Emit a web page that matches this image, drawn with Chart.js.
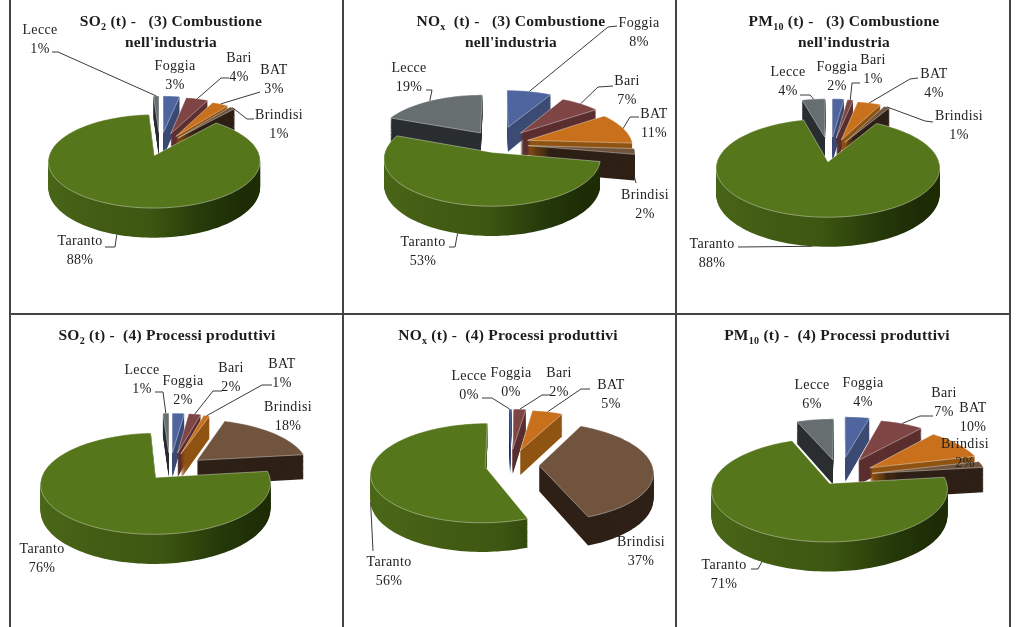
<!DOCTYPE html>
<html>
<head>
<meta charset="utf-8">
<title>Emissioni per provincia</title>
<script src="https://cdn.jsdelivr.net/npm/chart.js@4"></script>
<style>
  html, body { margin: 0; padding: 0; background: #fff; overflow: hidden; }
  #page { position: relative; width: 1024px; height: 627px; }
  canvas { position: absolute; left: 0; top: 0; }
  .rule { position: absolute; background: #444; }
  .title {
    position: absolute; transform: translateX(-50%); white-space: nowrap; text-align: center;
    font: bold 15.5px/21px "Liberation Serif", serif; color: #1c1c1c; letter-spacing: 0.25px; z-index: 5;
  }
  .title sub { font-size: 10px; line-height: 0; }
</style>
</head>
<body>
<div id="page"></div>
<script>
// Data (percent per province)
const provinces = ['Foggia', 'Bari', 'BAT', 'Brindisi', 'Taranto', 'Lecce'];
const so2Combustione = [3, 4, 3, 1, 88, 1];
const noxCombustione = [8, 7, 11, 2, 53, 19];
const pm10Combustione = [2, 1, 4, 1, 88, 4];
const so2Processi = [2, 2, 1, 18, 76, 1];
const noxProcessi = [0.2, 2, 5, 37, 55.7, 0.1];
const pm10Processi = [4, 7, 10, 2, 71, 6];

const titleCombustione = "(3) Combustione<br>nell'industria";
const titleProcessi = '(4) Processi produttivi';

const topColors = ['#4f659f', '#7f4545', '#c8701c', '#70543e', '#56761b', '#666e70'];
const wallColors = ['#3c4b74', '#5b2f2f', '#8f5312', '#2e2016', '#3f5a14', '#2a2e31'];
const drawOrder = [0, 1, 2, 3, 5, 4];

// Layout of each panel: pie centre, radius, explosion per slice, label centres and leader elbows
const panels = [
  {
    title: 'SO<sub>2</sub> (t) -&nbsp;&nbsp; ' + titleCombustione, values: so2Combustione,
    tx: 171, ty: 10, cx: 160, cy: 148, r: 103, explode: [38, 36, 32, 30, 18, 38],
    labels: [[175, 66], [239, 58], [274, 70], [279, 115], [80, 241], [40, 30]],
    leaders: [null, [[229, 78], [221, 78]], [[260, 92]], [[254, 119], [247, 119]], [[105, 247], [115, 247]], [[52, 52], [58, 52]]]
  },
  {
    title: 'NO<sub>x</sub>&nbsp; (t) -&nbsp;&nbsp; ' + titleCombustione, values: noxCombustione,
    tx: 511, ty: 10, cx: 498, cy: 144, r: 105, explode: [42, 35, 31, 30, 20, 32],
    labels: [[639, 23], [627, 81], [654, 114], [645, 195], [423, 242], [409, 68]],
    leaders: [[[617, 26], [608, 27]], [[613, 86], [598, 87]], [[639, 117], [630, 117]], [[636, 183]], [[449, 247], [455, 247]], [[426, 90], [432, 90]]]
  },
  {
    title: 'PM<sub>10</sub> (t) -&nbsp;&nbsp; ' + titleCombustione, values: pm10Combustione,
    tx: 844, ty: 10, cx: 830, cy: 155, r: 109, explode: [44, 42, 38, 34, 16, 44],
    labels: [[837, 67], [873, 60], [934, 74], [959, 116], [712, 244], [788, 72]],
    leaders: [null, [[860, 83], [852, 83]], [[918, 78], [910, 79]], [[933, 122], [925, 121]], [[738, 247]], [[800, 95], [810, 95]]]
  },
  {
    title: 'SO<sub>2</sub> (t) -&nbsp; ' + titleProcessi, values: so2Processi,
    tx: 167, ty: 324, cx: 170, cy: 470, r: 112, explode: [42, 42, 40, 36, 22, 42],
    labels: [[183, 381], [231, 368], [282, 364], [288, 407], [42, 549], [142, 370]],
    leaders: [null, [[222, 391], [213, 391]], [[272, 385], [262, 385]], null, null, [[155, 392], [163, 392]]]
  },
  {
    title: 'NO<sub>x</sub> (t) -&nbsp; ' + titleProcessi, values: noxProcessi,
    tx: 508, ty: 324, cx: 510, cy: 465, r: 113, explode: [38, 38, 36, 29, 25, 38],
    labels: [[511, 373], [559, 373], [611, 385], [641, 542], [389, 562], [469, 376]],
    leaders: [null, [[550, 395], [542, 395]], [[590, 389], [581, 389]], null, [[373, 551]], [[482, 398], [492, 398]]]
  },
  {
    title: 'PM<sub>10</sub> (t) -&nbsp; ' + titleProcessi, values: pm10Processi,
    tx: 837, ty: 324, cx: 840, cy: 476, r: 115, explode: [46, 42, 36, 33, 20, 40],
    labels: [[863, 383], [944, 393], [973, 408], [965, 444], [724, 565], [812, 385]],
    leaders: [null, [[933, 416], [920, 416]], null, null, [[751, 569], [758, 569]], null]
  }
];

const tilt = 0.43;
const perspective = 0.12;
const depth = 25.5;

// Plane point -> screen point, with a little perspective like the 3D pies in Excel
function project(arc, px, py, z) {
  const s = 1 / (1 - perspective * py / arc.outerRadius);
  return [arc.x + px * s, arc.y + tilt * py * s + z * s];
}

function slicePoints(arc) {
  const mid = (arc.startAngle + arc.endAngle) / 2;
  const e = arc.options.offset || 0;
  const ox = Math.cos(mid) * e;
  const oy = Math.sin(mid) * e;
  const pts = [[ox, oy]];
  const steps = Math.max(2, Math.ceil((arc.endAngle - arc.startAngle) / 0.03));
  for (let i = 0; i <= steps; i++) {
    const a = arc.startAngle + (arc.endAngle - arc.startAngle) * i / steps;
    pts.push([ox + arc.outerRadius * Math.cos(a), oy + arc.outerRadius * Math.sin(a)]);
  }
  return pts;
}

function tracePath(ctx, arc, pts, z) {
  ctx.beginPath();
  pts.forEach((p, i) => {
    const q = project(arc, p[0], p[1], z);
    if (i === 0) ctx.moveTo(q[0], q[1]); else ctx.lineTo(q[0], q[1]);
  });
  ctx.closePath();
}

// The pie controller works out the angles, the plugin paints them as tilted slices
const pie3d = {
  id: 'pie3d',
  beforeDatasetsDraw(chart) {
    const ctx = chart.ctx;
    const arcs = chart.getDatasetMeta(0).data;
    drawOrder.forEach((i) => {
      const arc = arcs[i];
      if (arc.endAngle - arc.startAngle <= 0) return;
      const pts = slicePoints(arc);
      let wall = wallColors[i];
      if (provinces[i] === 'Taranto') {
        const left = arc.x - arc.outerRadius - 20;
        const g = ctx.createLinearGradient(left, 0, left + 2 * arc.outerRadius, 0);
        g.addColorStop(0, '#4a6717');
        g.addColorStop(0.3, '#425c14');
        g.addColorStop(0.55, '#3d5611');
        g.addColorStop(0.8, '#263a0a');
        g.addColorStop(1, '#1d2c05');
        wall = g;
      }
      ctx.fillStyle = wall;
      for (let z = depth; z > 0; z--) {
        tracePath(ctx, arc, pts, z);
        ctx.fill();
      }
      tracePath(ctx, arc, pts, 0);
      ctx.fillStyle = topColors[i];
      ctx.fill();
      if (arc.endAngle - arc.startAngle > 0.05) {
        ctx.strokeStyle = 'rgba(255,255,255,0.55)';
        ctx.lineWidth = 0.7;
        ctx.stroke();
      }
    });
    return false;
  },
  afterDraw(chart) {
    const ctx = chart.ctx;
    const panel = chart.options.plugins.pie3d.panel;
    const arcs = chart.getDatasetMeta(0).data;
    ctx.save();
    // leader lines: from the label elbow to the rim of the slice
    ctx.strokeStyle = '#3a3a3a';
    ctx.lineWidth = 1;
    panel.leaders.forEach((elbows, i) => {
      if (!elbows) return;
      const arc = arcs[i];
      const mid = (arc.startAngle + arc.endAngle) / 2;
      const e = arc.options.offset || 0;
      const py = Math.sin(mid) * (arc.outerRadius + e);
      const tip = project(arc, Math.cos(mid) * (arc.outerRadius + e), py, py > 0 ? depth : 0);
      ctx.beginPath();
      elbows.forEach((p, n) => (n === 0 ? ctx.moveTo(p[0], p[1]) : ctx.lineTo(p[0], p[1])));
      ctx.lineTo(tip[0], tip[1]);
      ctx.stroke();
    });
    // labels
    ctx.fillStyle = '#222';
    ctx.font = '14px "Liberation Serif", serif';
    ctx.letterSpacing = '0.35px';
    ctx.textAlign = 'center';
    ctx.textBaseline = 'middle';
    panel.labels.forEach((p, i) => {
      ctx.fillText(provinces[i], p[0], p[1]);
      ctx.fillText(Math.round(panel.values[i]) + '%', p[0], p[1] + 19);
    });
    ctx.restore();
  }
};

const page = document.getElementById('page');

// Table rules
[[9, 0, 1.5, 627], [342, 0, 1.5, 627], [675, 0, 1.5, 627], [1009, 0, 1.5, 627], [9, 313, 1001, 1.5]].forEach((r) => {
  const d = document.createElement('div');
  d.className = 'rule';
  d.style.cssText = `left:${r[0]}px;top:${r[1]}px;width:${r[2]}px;height:${r[3]}px`;
  page.appendChild(d);
});

panels.forEach((panel) => {
  const title = document.createElement('div');
  title.className = 'title';
  title.style.left = panel.tx + 'px';
  title.style.top = panel.ty + 'px';
  title.innerHTML = panel.title;
  page.appendChild(title);

  const canvas = document.createElement('canvas');
  page.appendChild(canvas);
  canvas.width = 1024;
  canvas.height = 627;

  new Chart(canvas, {
    type: 'pie',
    plugins: [pie3d],
    data: {
      labels: provinces,
      datasets: [{
        data: panel.values,
        backgroundColor: topColors,
        offset: panel.explode,
        borderWidth: 0
      }]
    },
    options: {
      responsive: false,
      animation: false,
      radius: panel.r,
      layout: {
        padding: {
          left: panel.cx - panel.r,
          right: 1024 - panel.cx - panel.r,
          top: panel.cy - panel.r,
          bottom: 627 - panel.cy - panel.r
        }
      },
      plugins: {
        legend: { display: false },
        tooltip: { enabled: false },
        pie3d: { panel: panel }
      }
    }
  });
});
</script>
</body>
</html>
